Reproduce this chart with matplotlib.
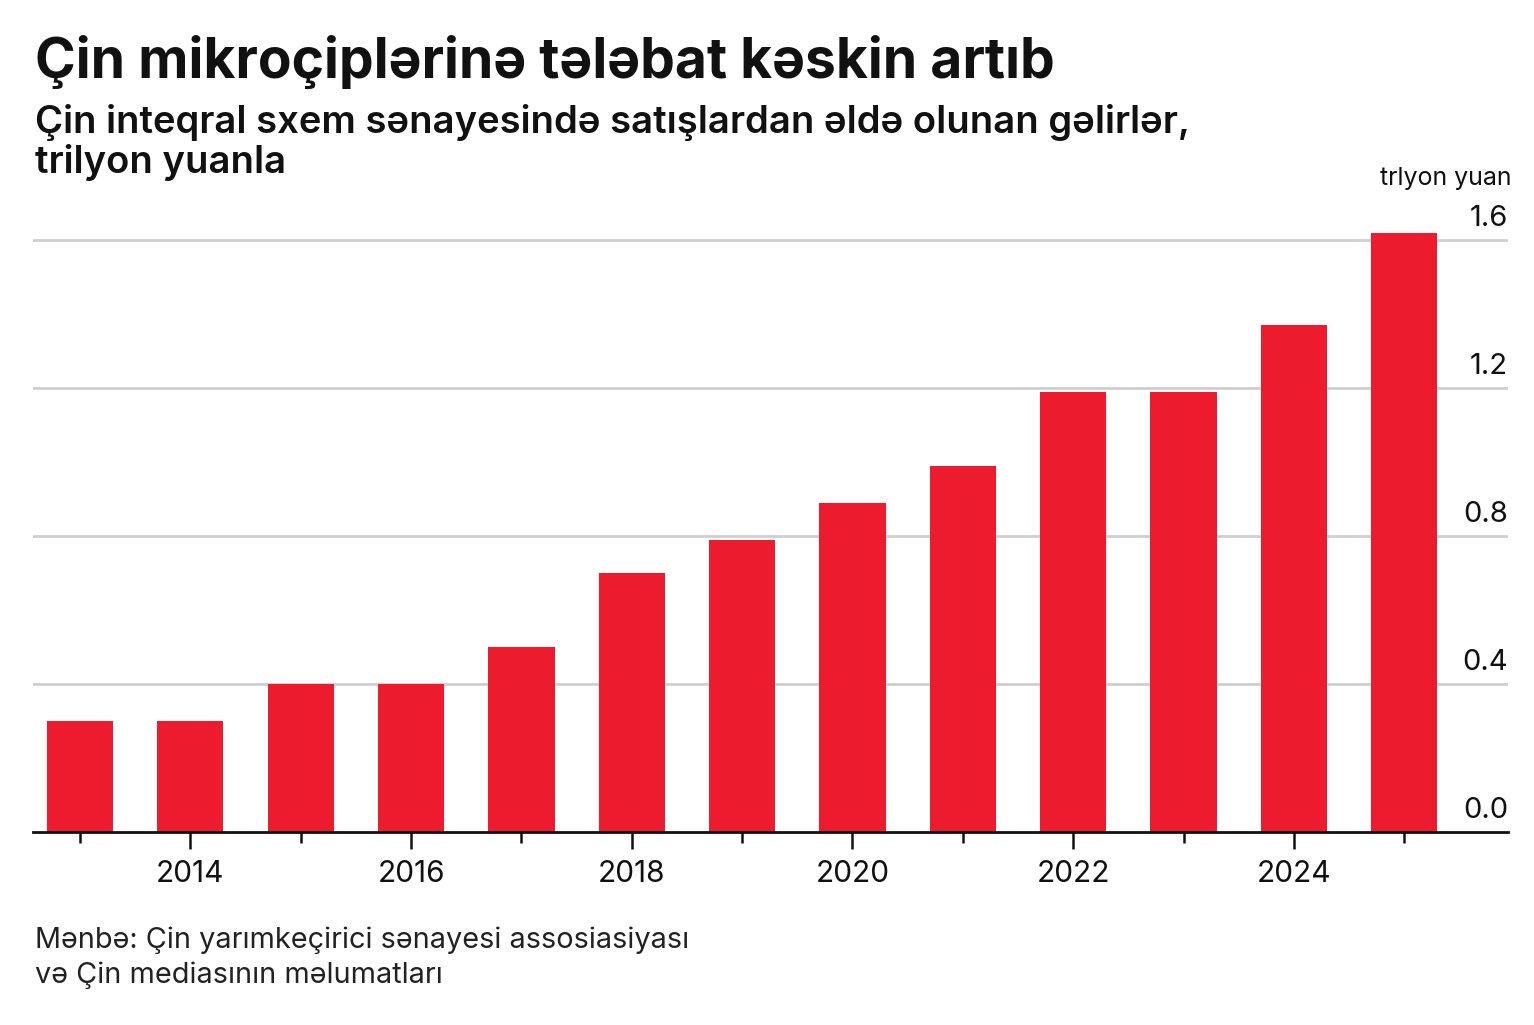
import matplotlib
matplotlib.use("Agg")
import matplotlib.pyplot as plt
from matplotlib.ticker import FixedLocator

plt.rcParams["font.family"] = ["Inter", "DejaVu Sans"]

# data
years = [2013, 2014, 2015, 2016, 2017, 2018, 2019, 2020, 2021, 2022, 2023, 2024, 2025]
revenue = [0.30, 0.30, 0.40, 0.40, 0.50, 0.70, 0.79, 0.89, 0.99, 1.19, 1.19, 1.37, 1.62]
y_ticks = [0.0, 0.4, 0.8, 1.2, 1.6]
x_labels = [2014, 2016, 2018, 2020, 2022, 2024]

title = "Çin mikroçiplərinə tələbat kəskin artıb"
subtitle = ["Çin inteqral sxem sənayesində satışlardan əldə olunan gəlirlər,",
            "trilyon yuanla"]
unit = "trlyon yuan"
source = ["Mənbə: Çin yarımkeçirici sənayesi assosiasiyası",
          "və Çin mediasının məlumatları"]

BAR = "#EC1B2D"
GRID = "#CFCFCF"
INK = "#111111"

W, H = 1534, 1025
fig = plt.figure(figsize=(W / 100, H / 100), dpi=100)
fig.patch.set_facecolor("white")

ax = fig.add_axes([33 / W, 1 - 832 / H, (1508 - 33) / W, (832 - 203) / H])
ax.bar(years, revenue, width=0.6, color=BAR, zorder=3)

ax.set_xlim(2012.574, 2025.94)
ax.set_ylim(0, 1.7)

for v in y_ticks:
    if v > 0:
        ax.axhline(v, color=GRID, lw=2, zorder=1)
    ax.text(1.0, v + 0.037, f"{v:.1f}", transform=ax.get_yaxis_transform(),
            ha="right", va="baseline", fontsize=21, color=INK)

for s in ["top", "right", "left"]:
    ax.spines[s].set_visible(False)
ax.spines["bottom"].set_linewidth(2)
ax.spines["bottom"].set_color(INK)
ax.spines["bottom"].set_zorder(4)

ax.set_yticks([])
ax.xaxis.set_major_locator(FixedLocator(x_labels))
ax.xaxis.set_minor_locator(FixedLocator([y for y in years if y not in x_labels]))
ax.set_xticklabels([str(x) for x in x_labels])
ax.tick_params(axis="x", which="major", length=12, width=1.8, color=INK,
               labelsize=21.5, pad=8, labelcolor=INK)
ax.tick_params(axis="x", which="minor", length=8, width=1.8, color=INK)

fig.text(35 / W, 1 - 78 / H, title, fontsize=39.7, fontweight="bold",
         color=INK, va="baseline")
for i, line in enumerate(subtitle):
    fig.text(35 / W, 1 - (133 + 40 * i) / H, line, fontsize=27.5,
             fontweight="semibold", color=INK, va="baseline")
fig.text(1512 / W, 1 - 185 / H, unit, fontsize=18, color=INK,
         ha="right", va="baseline")
for i, line in enumerate(source):
    fig.text(35 / W, 1 - (948 + 35 * i) / H, line, fontsize=20.8,
             color="#222222", va="baseline")

fig.savefig("out.png", dpi=100, facecolor="white")
